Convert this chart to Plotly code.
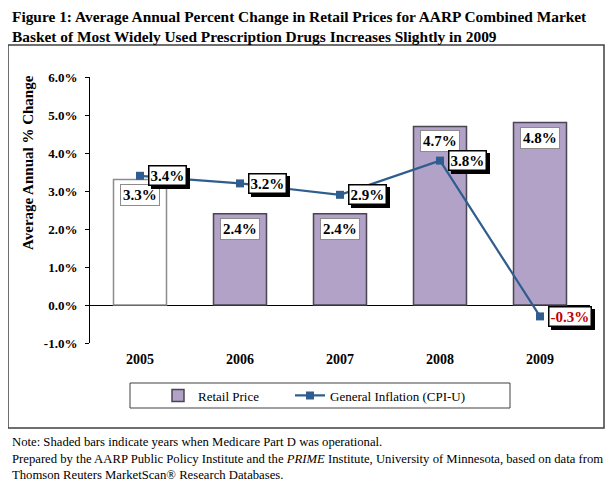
import plotly.graph_objects as go

years = ["2005", "2006", "2007", "2008", "2009"]
retail_price = [3.3, 2.4, 2.4, 4.7, 4.8]
cpi_u = [3.4, 3.2, 2.9, 3.8, -0.3]
part_d = [False, True, True, True, True]
y_ticks = [-1, 0, 1, 2, 3, 4, 5, 6]

# the page body has an 8px margin: work in screen pixels and subtract it
OFF = 8
W, H = 615 - OFF, 489 - OFF
L, R, T, B = 90, 590, 77, 343          # plot area in screen pixels
def px(x):
    return (x - L) / (R - L)
def py(y):
    return (B - y) / (B - T)

SERIF = "Liberation Serif, Times New Roman, serif"
PURPLE = "#B2A2C7"
BLUE = "#2F5E8E"

xs = list(range(len(years)))
fig = go.Figure()
fig.add_trace(go.Bar(
    x=[x for x, p in zip(xs, part_d) if p],
    y=[v for v, p in zip(retail_price, part_d) if p],
    width=0.53, name="Retail Price", legend="legend",
    marker=dict(color=PURPLE, line=dict(color="#4A4552", width=1.5)),
))
fig.add_trace(go.Bar(
    x=[x for x, p in zip(xs, part_d) if not p],
    y=[v for v, p in zip(retail_price, part_d) if not p],
    width=0.53, name="Retail Price (pre Part D)", showlegend=False,
    marker=dict(color="white", line=dict(color="#8C8C8C", width=1.5)),
))
fig.add_trace(go.Scatter(
    x=xs, y=cpi_u, mode="lines+markers", name="General Inflation (CPI-U)", legend="legend2",
    line=dict(color=BLUE, width=2.2),
    marker=dict(symbol="square", size=8, color=BLUE),
))

LBL = 15
ann = []
for x, v in zip(xs, retail_price):
    ann.append(dict(x=x, y=v, xref="x", yref="y", text=f"{v:.1f}%", showarrow=False,
                    yanchor="top", yshift=-4,
                    font=dict(family=SERIF, size=LBL, color="black", weight="bold"),
                    bgcolor="white", bordercolor="#8C8C8C", borderwidth=1, borderpad=2))
for x, v in zip(xs, cpi_u):
    col = "#C00000" if v < 0 else "black"
    common = dict(x=x, y=v, xref="x", yref="y", text=f"{v:.1f}%", showarrow=False,
                  xanchor="left", yanchor="middle", borderpad=1, borderwidth=1.5)
    ann.append(dict(common, xshift=11, yshift=-3,
                    font=dict(family=SERIF, size=LBL, color="black", weight="bold"),
                    bgcolor="black", bordercolor="black"))
    ann.append(dict(common, xshift=8,
                    font=dict(family=SERIF, size=LBL, color=col, weight="bold"),
                    bgcolor="white", bordercolor="black"))

ann.append(dict(xref="paper", yref="paper", x=px(10), y=py(6), xanchor="left", yanchor="top",
                align="left", showarrow=False,
                text="Figure 1: Average Annual Percent Change in Retail Prices for AARP Combined Market<br>"
                     "Basket of Most Widely Used Prescription Drugs Increases Slightly in 2009",
                font=dict(family=SERIF, size=15.4, color="black", weight="bold")))
ann.append(dict(xref="paper", yref="paper", x=px(28), y=py(163), xanchor="center", yanchor="middle",
                showarrow=False, textangle=-90,
                text="Average Annual % Change",
                font=dict(family=SERIF, size=15, color="black", weight="bold")))
ann.append(dict(xref="paper", yref="paper", x=px(10), y=py(433), xanchor="left", yanchor="top",
                align="left", showarrow=False,
                text="Note: Shaded bars indicate years when Medicare Part D was operational.<br>"
                     "Prepared by the AARP Public Policy Institute and the <i>PRIME</i> Institute, University of Minnesota, based on data from<br>"
                     "Thomson Reuters MarketScan® Research Databases.",
                font=dict(family=SERIF, size=12.7, color="black")))

AX = dict(range=[-0.5, 4.5], overlaying="x", anchor="free", position=1 / 7,
          tickvals=[0.5, 1.5, 2.5, 3.5, 4.5], ticks="outside", ticklen=4, tickcolor="black",
          showticklabels=False, showline=False, showgrid=False, zeroline=False)
YAX = dict(range=[-1, 6], tickvals=y_ticks, showline=False, showgrid=False, zeroline=False,
           ticks="outside", ticklen=4, tickcolor="black", showticklabels=False)
LEG = dict(orientation="h", y=py(395.5), yanchor="middle", borderwidth=0,
           bgcolor="rgba(0,0,0,0)", font=dict(family=SERIF, size=13, color="black"), itemwidth=30)

fig.update_layout(
    width=W, height=H,
    margin=dict(l=L - OFF, r=W - (R - OFF), t=T - OFF, b=H - (B - OFF), autoexpand=False),
    paper_bgcolor="white", plot_bgcolor="white",
    barmode="overlay",
    showlegend=True,
    legend=dict(LEG, x=px(158), xanchor="left"),
    legend2=dict(LEG, x=px(290), xanchor="left"),
    annotations=ann,
    shapes=[dict(type="rect", xref="paper", yref="paper", x0=px(8), x1=px(604), y0=py(428), y1=py(45),
                 line=dict(color="#404040", width=1.5), layer="below"),
            dict(type="rect", xref="paper", yref="paper", x0=px(130), x1=px(510), y0=py(408), y1=py(383),
                 line=dict(color="#404040", width=1), layer="below")],
    xaxis=dict(range=[-0.5, 4.5], tickvals=xs, ticktext=years, showline=False, showgrid=False,
               zeroline=False, ticks="", ticklabelstandoff=6,
               tickfont=dict(family=SERIF, size=14, color="black", weight="bold")),
    xaxis2=dict(AX, side="bottom"),
    xaxis3=dict(AX, side="top"),
    yaxis=dict(range=[-1, 6], tickvals=y_ticks, ticktext=[f"{t:.1f}%" for t in y_ticks],
               showline=True, linecolor="black", linewidth=1, ticks="outside", ticklen=4,
               tickcolor="black", showgrid=False, zeroline=True, zerolinecolor="black",
               zerolinewidth=1, ticklabelstandoff=5,
               tickfont=dict(family=SERIF, size=13, color="black", weight="bold")),
    yaxis2=dict(YAX, overlaying="y", side="right", anchor="free", position=0),
)
fig.write_html("out.html")
